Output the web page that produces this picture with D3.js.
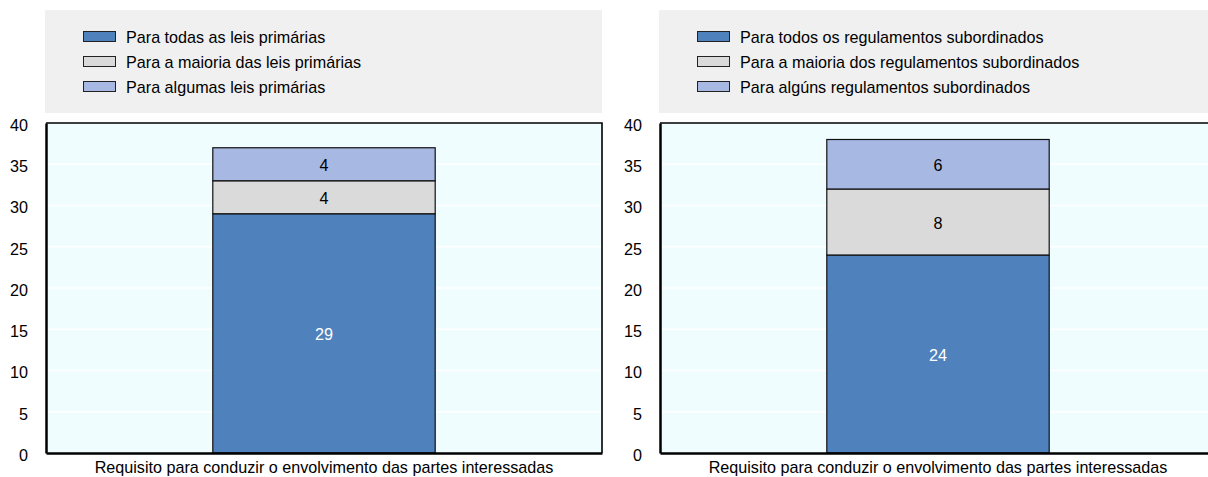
<!DOCTYPE html>
<html>
<head>
<meta charset="utf-8">
<script src="https://cdn.jsdelivr.net/npm/d3@7"></script>
<style>
  html, body { margin: 0; padding: 0; background: #fff; }
  svg { display: block; }
  text { font-family: "Liberation Sans Narrow", "Arial Narrow", "Liberation Sans", Arial, sans-serif; }
</style>
</head>
<body>
<svg id="chart" width="1208" height="477"></svg>
<script>
// Shared category and y-axis ticks
const categories = ["Requisito para conduzir o envolvimento das partes interessadas"];
const yTicks = [0, 5, 10, 15, 20, 25, 30, 35, 40];

// Primary laws panel
const primaryLabels = ["Para todas as leis primárias", "Para a maioria das leis primárias", "Para algumas leis primárias"];
const primaryValues = [29, 4, 4];

// Subordinate regulations panel
const subordinateLabels = ["Para todos os regulamentos subordinados", "Para a maioria dos regulamentos subordinados", "Para algúns regulamentos subordinados"];
const subordinateValues = [24, 8, 6];

const seriesColors = ["#4f81bd", "#dadada", "#a7b9e3"];
const labelColors = ["#ffffff", "#000000", "#000000"];

const FONT = 17;
const SQUEEZE = 0.95;
const PLOT_W = 556;

const svg = d3.select("#chart");

// squeeze text slightly to a semi-condensed width
function squeeze(sel) {
  sel.each(function () {
    const w = this.getComputedTextLength();
    if (w > 0) {
      this.setAttribute("textLength", (w * SQUEEZE).toFixed(2));
      this.setAttribute("lengthAdjust", "spacingAndGlyphs");
    }
  });
}

function drawPanel(opts) {
  const g = svg.append("g");
  const { labels, values } = opts;
  const x0 = opts.plotX, x1 = opts.plotX + PLOT_W;

  // legend
  g.append("rect")
    .attr("x", x0 - 1).attr("y", 10)
    .attr("width", PLOT_W + 1).attr("height", 103)
    .attr("fill", "#f0f0f0");
  labels.forEach((lab, i) => {
    const cy = 36.5 + i * 25;
    g.append("rect")
      .attr("x", x0 + 37.5).attr("y", cy - 5)
      .attr("width", 32).attr("height", 10)
      .attr("fill", seriesColors[i]).attr("stroke", "#222").attr("stroke-width", 1);
    g.append("text")
      .attr("x", x0 + 80).attr("y", cy + 6)
      .attr("font-size", FONT).attr("fill", "#000")
      .text(lab)
      .call(squeeze);
  });

  const y = d3.scaleLinear().domain([0, 40]).range([453, 123]);
  const x = d3.scaleBand().domain(categories).range([x0, x1]).paddingInner(0).paddingOuter(0.75);

  // plot background
  g.append("rect")
    .attr("x", x0).attr("y", y(40)).attr("width", x1 - x0).attr("height", y(0) - y(40))
    .attr("fill", "#effdff");

  // white gridlines
  g.append("g").selectAll("line").data(yTicks.filter(t => t > 0 && t < 40)).join("line")
    .attr("x1", x0).attr("x2", x1)
    .attr("y1", d => y(d)).attr("y2", d => y(d))
    .attr("stroke", "#ffffff").attr("stroke-width", 1.5);

  // stacked bars
  const stack = [];
  let acc = 0;
  values.forEach((v, i) => { stack.push({ i, y0: acc, y1: acc + v, v }); acc += v; });
  const bars = g.append("g");
  bars.selectAll("rect").data(stack).join("rect")
    .attr("x", x(categories[0])).attr("width", x.bandwidth())
    .attr("y", d => y(d.y1)).attr("height", d => y(d.y0) - y(d.y1))
    .attr("fill", d => seriesColors[d.i]).attr("stroke", "#111").attr("stroke-width", 1.2);
  bars.selectAll("text").data(stack).join("text")
    .attr("x", x(categories[0]) + x.bandwidth() / 2)
    .attr("y", d => y((d.y0 + d.y1) / 2) + 7)
    .attr("text-anchor", "middle").attr("font-size", FONT)
    .attr("fill", d => labelColors[d.i])
    .text(d => d.v)
    .call(squeeze);

  // frame: top and right
  g.append("path")
    .attr("d", `M${x0},${y(40)}H${x1}V${y(0)}`)
    .attr("fill", "none").attr("stroke", "#000").attr("stroke-width", 1.6);

  // y axis
  const yAxis = d3.axisLeft(y).tickValues(yTicks).tickSize(0).tickPadding(18);
  const ya = g.append("g").attr("transform", `translate(${x0},0)`).call(yAxis);
  ya.select(".domain").attr("stroke", "#000").attr("stroke-width", 2.5);
  ya.selectAll("text").attr("font-size", FONT).attr("fill", "#000")
    .attr("font-family", null).attr("dy", "0.44em").call(squeeze);

  // x axis
  const xAxis = d3.axisBottom(x).tickSize(0).tickPadding(8);
  const xa = g.append("g").attr("transform", `translate(0,${y(0)})`).call(xAxis);
  xa.select(".domain").attr("stroke", "#000").attr("stroke-width", 2.5);
  xa.selectAll("text").attr("font-size", FONT).attr("fill", "#000").attr("font-family", null).call(squeeze);
}

drawPanel({ labels: primaryLabels, values: primaryValues, plotX: 46 });
drawPanel({ labels: subordinateLabels, values: subordinateValues, plotX: 660 });
</script>
</body>
</html>
